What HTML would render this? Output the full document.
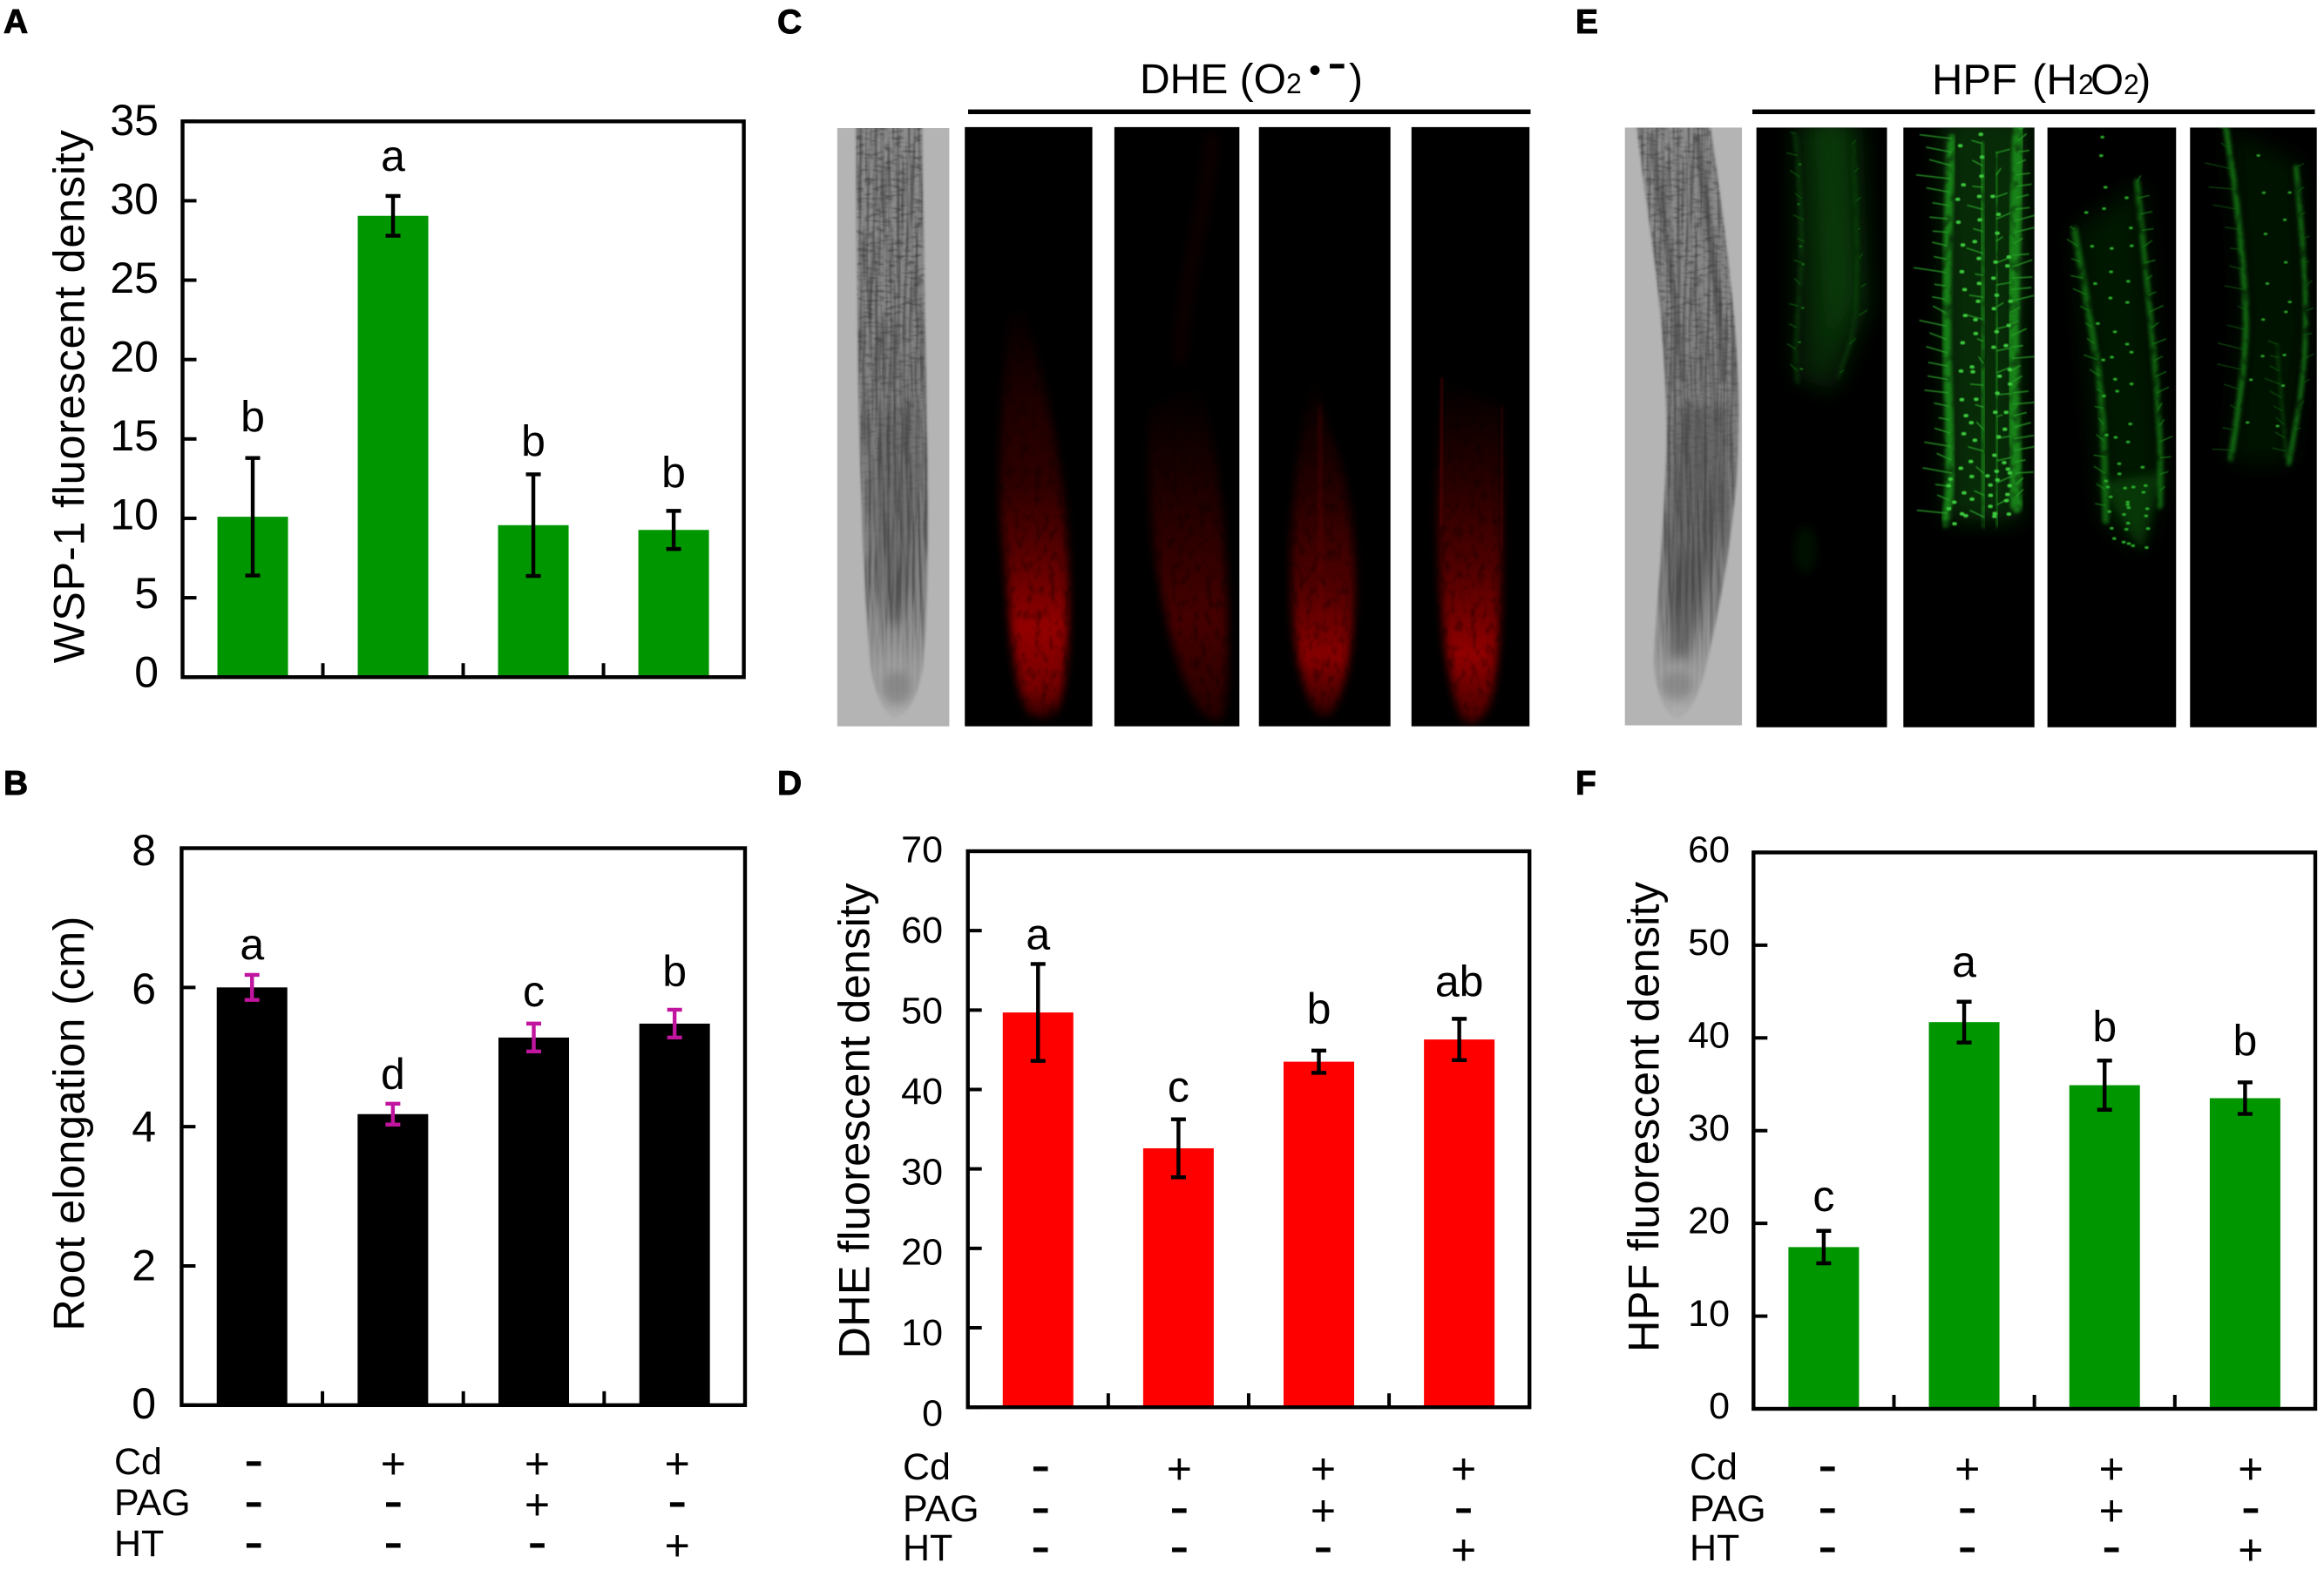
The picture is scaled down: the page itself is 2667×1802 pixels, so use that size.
<!DOCTYPE html>
<html lang="en">
<head>
<meta charset="utf-8">
<title>Root ROS figure</title>
<style>
html,body{margin:0;padding:0;background:#fff;width:2667px;height:1802px;overflow:hidden}
svg{display:block;font-family:"Liberation Sans",Arial,sans-serif}
text{fill:#000}
</style>
</head>
<body>
<svg id="figure" xmlns="http://www.w3.org/2000/svg" width="2667" height="1802" viewBox="0 0 2667 1802">
<defs>
  <filter id="fiber" x="0" y="0" width="100%" height="100%" color-interpolation-filters="sRGB">
    <feTurbulence type="fractalNoise" baseFrequency="0.16 0.006" numOctaves="3" seed="7"/>
    <feColorMatrix type="matrix" values="0 0 0 0 .2  0 0 0 0 .2  0 0 0 0 .2  3.4 0 0 0 -1.35"/>
    <feGaussianBlur stdDeviation="0.9" result="t"/>
    <feComposite in="t" in2="SourceGraphic" operator="in"/>
  </filter>
  <filter id="cellwall" x="0" y="0" width="100%" height="100%" color-interpolation-filters="sRGB">
    <feTurbulence type="fractalNoise" baseFrequency="0.05 0.15" numOctaves="2" seed="12"/>
    <feColorMatrix type="matrix" values="0 0 0 0 .2  0 0 0 0 .2  0 0 0 0 .2  3.6 0 0 0 -1.75"/>
    <feGaussianBlur stdDeviation="0.9" result="t"/>
    <feComposite in="t" in2="SourceGraphic" operator="in"/>
  </filter>
  <filter id="redglow" x="-20%" y="-20%" width="140%" height="140%" color-interpolation-filters="sRGB">
    <feGaussianBlur stdDeviation="9" result="b"/>
    <feTurbulence type="fractalNoise" baseFrequency="0.07 0.04" numOctaves="2" seed="4" result="n"/>
    <feColorMatrix in="n" type="matrix" values="0 0 0 0 0  0 0 0 0 0  0 0 0 0 0  .9 0 0 0 .52" result="m"/>
    <feComposite in="b" in2="m" operator="in"/>
  </filter>
  <filter id="greenband" x="-60%" y="-5%" width="220%" height="110%" color-interpolation-filters="sRGB">
    <feGaussianBlur stdDeviation="4" result="b"/>
    <feTurbulence type="fractalNoise" baseFrequency="0.04 0.035" numOctaves="2" seed="9" result="n"/>
    <feColorMatrix in="n" type="matrix" values="0 0 0 0 0  0 0 0 0 0  0 0 0 0 0  2 0 0 0 -.05" result="m"/>
    <feComposite in="b" in2="m" operator="in"/>
  </filter>
  <filter id="soft" x="-30%" y="-30%" width="160%" height="160%"><feGaussianBlur stdDeviation="10"/></filter>
  <filter id="softwide" x="-50%" y="-30%" width="200%" height="160%"><feGaussianBlur stdDeviation="24"/></filter>
  <filter id="soft2" x="-30%" y="-5%" width="160%" height="110%"><feGaussianBlur stdDeviation="2.5"/></filter>
  <filter id="soft1" x="-5%" y="-5%" width="110%" height="110%"><feGaussianBlur stdDeviation="0.9"/></filter>
  <linearGradient id="grad-r1" gradientUnits="userSpaceOnUse" x1="0" y1="620" x2="0" y2="1510">
    <stop offset="0" stop-color="#8c0000" stop-opacity="0"/><stop offset=".2" stop-color="#8c0000" stop-opacity=".18"/>
    <stop offset=".45" stop-color="#8c0000" stop-opacity=".34"/><stop offset=".6" stop-color="#8c0000" stop-opacity=".62"/>
    <stop offset=".78" stop-color="#940000" stop-opacity="1"/><stop offset=".92" stop-color="#8c0000" stop-opacity=".85"/>
    <stop offset="1" stop-color="#8c0000" stop-opacity=".3"/>
  </linearGradient>
  <linearGradient id="grad-r2" gradientUnits="userSpaceOnUse" x1="0" y1="800" x2="0" y2="1510">
    <stop offset="0" stop-color="#4a0000" stop-opacity="0"/><stop offset=".35" stop-color="#4a0000" stop-opacity=".45"/>
    <stop offset=".7" stop-color="#4a0000" stop-opacity=".95"/><stop offset="1" stop-color="#4a0000" stop-opacity=".5"/>
  </linearGradient>
  <linearGradient id="grad-r3" gradientUnits="userSpaceOnUse" x1="0" y1="780" x2="0" y2="1505">
    <stop offset="0" stop-color="#800000" stop-opacity="0"/><stop offset=".35" stop-color="#800000" stop-opacity=".3"/>
    <stop offset=".6" stop-color="#800000" stop-opacity=".6"/><stop offset=".82" stop-color="#880000" stop-opacity="1"/>
    <stop offset="1" stop-color="#800000" stop-opacity=".35"/>
  </linearGradient>
  <linearGradient id="grad-r4" gradientUnits="userSpaceOnUse" x1="0" y1="790" x2="0" y2="1515">
    <stop offset="0" stop-color="#8a0000" stop-opacity="0"/><stop offset=".3" stop-color="#8a0000" stop-opacity=".28"/>
    <stop offset=".55" stop-color="#8a0000" stop-opacity=".58"/><stop offset=".8" stop-color="#920000" stop-opacity="1"/>
    <stop offset="1" stop-color="#8a0000" stop-opacity=".5"/>
  </linearGradient>
  <linearGradient id="grad-root-c" gradientUnits="userSpaceOnUse" x1="0" y1="268" x2="0" y2="1505">
    <stop offset="0" stop-color="#8d8d8d"/><stop offset=".5" stop-color="#7f7f7f"/>
    <stop offset=".78" stop-color="#838383"/><stop offset=".9" stop-color="#9c9c9c"/><stop offset="1" stop-color="#aeaeae"/>
  </linearGradient>
  <linearGradient id="fade-cell" gradientUnits="userSpaceOnUse" x1="0" y1="268" x2="0" y2="1505">
    <stop offset="0" stop-color="#000" stop-opacity="1"/><stop offset=".3" stop-color="#000" stop-opacity="1"/><stop offset=".5" stop-color="#000" stop-opacity=".5"/><stop offset=".72" stop-color="#000" stop-opacity="0"/>
  </linearGradient>
  <linearGradient id="fade-fiber" gradientUnits="userSpaceOnUse" x1="0" y1="268" x2="0" y2="1505">
    <stop offset="0" stop-color="#000" stop-opacity=".85"/><stop offset=".78" stop-color="#000" stop-opacity=".85"/><stop offset=".9" stop-color="#000" stop-opacity=".15"/><stop offset="1" stop-color="#000" stop-opacity="0"/>
  </linearGradient>
  <mask id="mask-root-c" maskUnits="userSpaceOnUse" x="106" y="268" width="224" height="1252"><path fill="#fff" filter="url(#soft2)" d="M143 250 C145 500 147 800 152 950 C156 1150 165 1300 172 1390 C180 1460 205 1500 222 1503 C245 1497 270 1460 278 1390 C286 1300 290 1100 285 900 C282 700 278 450 275 250Z"/></mask>
  <mask id="mask-root-e" maskUnits="userSpaceOnUse" x="117" y="267" width="243" height="1251"><path fill="#fff" filter="url(#soft2)" d="M140 250 C150 350 170 470 185 600 C198 720 206 850 203 950 C198 1100 185 1250 177 1380 C180 1450 200 1497 225 1504 C252 1496 272 1455 287 1390 C312 1280 337 1150 349 1000 C357 880 352 720 337 600 C324 470 307 350 292 250Z"/></mask>
  <clipPath id="clip-e1"><rect x="390" y="267" width="271" height="1255"/></clipPath>
  <clipPath id="clip-e2"><rect x="695" y="267" width="272" height="1255"/></clipPath>
  <clipPath id="clip-e3"><rect x="994" y="267" width="267" height="1255"/></clipPath>
  <clipPath id="clip-e4"><rect x="1290" y="267" width="263" height="1255"/></clipPath>
  <clipPath id="clip-c1"><rect x="361" y="266" width="255" height="1254"/></clipPath>
  <clipPath id="clip-c2"><rect x="660" y="266" width="250" height="1254"/></clipPath>
  <clipPath id="clip-c3"><rect x="949" y="266" width="263" height="1254"/></clipPath>
  <clipPath id="clip-c4"><rect x="1254" y="266" width="236" height="1254"/></clipPath>
</defs>

<rect x="0" y="0" width="2667" height="1802" fill="#ffffff"/>

<text x="4" y="38" font-size="39" font-weight="bold" stroke="#000" stroke-width="1">A</text>
<text x="4" y="912" font-size="39" font-weight="bold" stroke="#000" stroke-width="1">B</text>
<text x="892" y="38" font-size="39" font-weight="bold" stroke="#000" stroke-width="1">C</text>
<text x="892" y="912" font-size="39" font-weight="bold" stroke="#000" stroke-width="1">D</text>
<text x="1808" y="38" font-size="39" font-weight="bold" stroke="#000" stroke-width="1">E</text>
<text x="1808" y="912" font-size="39" font-weight="bold" stroke="#000" stroke-width="1">F</text>

<!-- Panel C micrographs, drawn in zoom-space units -->
<g transform="translate(900,0) scale(0.57399,0.54845)">
  <rect x="106" y="268" width="224" height="1252" fill="#b4b4b4"/>
  <g mask="url(#mask-root-c)">
    <rect x="106" y="268" width="224" height="1252" fill="url(#grad-root-c)"/>
    <path d="M190 850 L178 1100 L205 1300 L235 1310 L268 1100 L262 850Z" fill="#4d4d4d" opacity=".35" filter="url(#soft)"/>
    <rect x="106" y="268" width="224" height="1252" fill="url(#fade-fiber)" filter="url(#fiber)" opacity=".62"/>
    <rect x="106" y="268" width="224" height="1252" fill="url(#fade-cell)" filter="url(#cellwall)" opacity=".5"/>
    <ellipse cx="225" cy="1440" rx="28" ry="36" fill="#666" opacity=".45" filter="url(#soft)"/>
  </g>
  <rect x="361" y="266" width="255" height="1254" fill="#000"/>
  <rect x="660" y="266" width="250" height="1254" fill="#000"/>
  <rect x="949" y="266" width="263" height="1254" fill="#000"/>
  <rect x="1254" y="266" width="236" height="1254" fill="#000"/>
  <g clip-path="url(#clip-c1)">
    <path filter="url(#redglow)" fill="url(#grad-r1)" d="M450 650 C430 900 425 1050 440 1150 C450 1300 460 1450 490 1495 C510 1505 535 1505 550 1480 C570 1400 572 1250 565 1120 C555 950 520 800 480 650Z"/>
  </g>
  <g clip-path="url(#clip-c2)">
    <path filter="url(#redglow)" fill="url(#grad-r2)" d="M730 850 C725 1000 730 1150 770 1320 C800 1450 830 1505 870 1510 C885 1500 890 1400 885 1250 C880 1100 870 950 830 800Z"/>
    <path d="M855 280 C850 420 800 560 790 760" fill="none" stroke="#2c0000" stroke-width="30" opacity=".3" filter="url(#soft)"/>
  </g>
  <g clip-path="url(#clip-c3)">
    <path filter="url(#redglow)" fill="url(#grad-r3)" d="M1060 780 C1020 950 1010 1100 1015 1250 C1020 1400 1050 1495 1080 1500 C1110 1495 1135 1400 1140 1250 C1145 1150 1130 1000 1090 900Z"/>
    <path d="M1068 850 L1075 1300" fill="none" stroke="#7a0000" stroke-width="20" opacity=".28" filter="url(#soft)"/>
  </g>
  <g clip-path="url(#clip-c4)">
    <path filter="url(#redglow)" fill="url(#grad-r4)" d="M1315 790 L1305 1000 C1305 1200 1320 1450 1360 1510 C1385 1520 1410 1500 1420 1430 C1435 1300 1440 1100 1435 850 C1400 830 1360 820 1315 790Z"/>
    <path d="M1316 790 L1312 1100" fill="none" stroke="#800000" stroke-width="10" opacity=".3" filter="url(#soft2)"/>
    <path d="M1436 850 L1434 1150" fill="none" stroke="#800000" stroke-width="8" opacity=".25" filter="url(#soft2)"/>
  </g>
</g>

<!-- Panel E micrographs, drawn in zoom-space units -->
<g transform="translate(1800,0) scale(0.55294,0.54845)">
  <rect x="117" y="267" width="243" height="1251" fill="#b4b4b4"/>
  <g mask="url(#mask-root-e)">
    <rect x="117" y="267" width="243" height="1251" fill="url(#grad-root-c)"/>
    <path d="M225 850 L205 1150 L215 1370 L245 1370 L320 1100 L335 850Z" fill="#404040" opacity=".38" filter="url(#soft)"/>
    <rect x="117" y="267" width="243" height="1251" fill="url(#fade-fiber)" filter="url(#fiber)" opacity=".55"/>
    <rect x="117" y="267" width="243" height="1251" fill="url(#fade-cell)" filter="url(#cellwall)" opacity=".42"/>
    <path d="M170 280 C200 480 225 650 240 800" fill="none" stroke="#333" stroke-width="14" opacity=".3" filter="url(#soft2)"/>
    <path d="M265 280 C290 450 315 620 320 800" fill="none" stroke="#333" stroke-width="14" opacity=".35" filter="url(#soft2)"/>
    <path d="M240 1150 L212 1385 M262 1150 L228 1385 M285 1150 L245 1385" fill="none" stroke="#333" stroke-width="9" opacity=".32" filter="url(#soft)"/>
    <ellipse cx="225" cy="1435" rx="32" ry="30" fill="#666" opacity=".42" filter="url(#soft)"/>
  </g>
  <rect x="390" y="267" width="271" height="1255" fill="#000"/>
  <rect x="695" y="267" width="272" height="1255" fill="#000"/>
  <rect x="994" y="267" width="267" height="1255" fill="#000"/>
  <rect x="1290" y="267" width="263" height="1255" fill="#000"/>
  <g id="hpf-1" clip-path="url(#clip-e1)">
    <path d="M470 250 L610 250 L625 640 L550 820 L475 790Z" fill="#0b3f0b" opacity=".55" filter="url(#softwide)"/>
    <path d="M510 250 L575 250 L590 620 L535 760Z" fill="#0e5a0e" opacity=".45" filter="url(#softwide)"/>
    <ellipse cx="492" cy="1150" rx="22" ry="50" fill="#052405" opacity=".5" filter="url(#soft)"/>
  </g>
  <g id="hpf-2" clip-path="url(#clip-e2)">
    <path d="M775 240 L955 240 L935 1090 L785 1090Z" fill="#0a480a" opacity=".6" filter="url(#softwide)"/>
  </g>
  <g id="hpf-3" clip-path="url(#clip-e3)">
    <path d="M1050 480 L1190 380 L1235 1000 L1190 1155 L1110 1090Z" fill="#062f06" opacity=".5" filter="url(#softwide)"/>
    <path d="M1100 1010 L1232 990 L1190 1155Z" fill="#0a4d0a" opacity=".6" filter="url(#soft)"/>
  </g>
  <g id="hpf-4" clip-path="url(#clip-e4)">
    <path d="M1370 270 L1520 340 L1535 700 L1495 970 L1375 970 L1400 650Z" fill="#042804" opacity=".5" filter="url(#softwide)"/>
  </g>
</g>

<rect x="1111" y="125.6" width="645.5" height="5.4" fill="#000"/>
<text y="107" font-size="48"><tspan x="1308">DHE (O</tspan><tspan x="1476" font-size="32">2</tspan><tspan x="1502" y="94" font-size="40">•</tspan><tspan x="1523" y="94" font-size="68">-</tspan><tspan x="1548" y="107">)</tspan></text>
<rect x="2011" y="125.6" width="645.5" height="5.4" fill="#000"/>
<text y="108" font-size="49"><tspan x="2217">HPF</tspan><tspan x="2332">(H</tspan><tspan x="2385" font-size="32">2</tspan><tspan x="2399">O</tspan><tspan x="2437" font-size="32">2</tspan><tspan x="2452">)</tspan></text>

<g id="charts"></g>

<script>
/* Shared treatment table */
const treatmentNames = ['Cd', 'PAG', 'HT'];
const treatmentCd = ['-', '+', '+', '+'];
const treatmentPag = ['-', '-', '+', '-'];
const treatmentHt = ['-', '-', '-', '+'];

/* Panel A */
const panelAValues = [10.1, 29.05, 9.57, 9.27];
const panelAErrors = [3.7, 1.25, 3.2, 1.2];
const panelALetters = ['b', 'a', 'b', 'b'];
const panelATicks = [0, 5, 10, 15, 20, 25, 30, 35];

/* Panel B */
const panelBValues = [6.0, 4.18, 5.28, 5.48];
const panelBErrors = [0.18, 0.15, 0.2, 0.2];
const panelBLetters = ['a', 'd', 'c', 'b'];
const panelBTicks = [0, 2, 4, 6, 8];

/* Panel D */
const panelDValues = [49.7, 32.6, 43.5, 46.3];
const panelDErrors = [6.1, 3.65, 1.4, 2.6];
const panelDLetters = ['a', 'c', 'b', 'ab'];
const panelDTicks = [0, 10, 20, 30, 40, 50, 60, 70];

/* Panel F */
const panelFValues = [17.44, 41.7, 34.9, 33.5];
const panelFErrors = [1.75, 2.2, 2.65, 1.7];
const panelFLetters = ['c', 'a', 'b', 'b'];
const panelFTicks = [0, 10, 20, 30, 40, 50, 60];

const SVGNS = 'http://www.w3.org/2000/svg';
function mk(parent, tag, attrs, text) {
  const el = document.createElementNS(SVGNS, tag);
  for (const k in attrs) el.setAttribute(k, attrs[k]);
  if (text !== undefined) el.textContent = text;
  parent.appendChild(el);
  return el;
}

function drawChart(cfg) {
  const root = document.getElementById('charts');
  const g = mk(root, 'g', {});
  
  
  const yMax = cfg.ticks[cfg.ticks.length - 1];
  const yScale = v => cfg.bottom - (v / yMax) * (cfg.bottom - cfg.top);
  const band = (cfg.right - cfg.left) / cfg.values.length;
  const xScale = i => cfg.left + (i + 0.5) * band;
  const barW = 81;

  cfg.values.forEach((v, i) => {
    const bar = mk(g, 'rect', {x: xScale(i) - barW / 2, y: yScale(v), width: barW, height: yScale(0) - yScale(v), fill: cfg.color});
    
    
  });

  const frame = mk(g, 'rect', {x: cfg.left, y: cfg.top, width: cfg.right - cfg.left, height: cfg.bottom - cfg.top, fill: 'none', stroke: '#000', 'stroke-width': 4.4});
  
  

  cfg.ticks.forEach(t => {
    const y = yScale(t);
    const tick = mk(g, 'line', {x1: cfg.left, x2: cfg.left + 16, y1: y, y2: y, stroke: '#000', 'stroke-width': 4});
    
    
    const frac = t / yMax;
    const off = cfg.labelOffBottom + (cfg.labelOffTop - cfg.labelOffBottom) * frac;
    const lab = mk(g, 'text', {x: cfg.labelRight, y: y + off, 'text-anchor': 'end', 'font-size': cfg.tickFont}, String(t));
    
    
  });

  for (let i = 1; i < cfg.values.length; i++) {
    const x = cfg.left + i * band;
    const tick = mk(g, 'line', {x1: x, x2: x, y1: cfg.bottom, y2: cfg.bottom - 16, stroke: '#000', 'stroke-width': 4});
    
    
  }

  cfg.errors.forEach((e, i) => {
    const x = xScale(i), hi = yScale(cfg.values[i] + e), lo = yScale(cfg.values[i] - e);
    const path = mk(g, 'path', {d: 'M' + (x - 8.5) + ' ' + hi + 'H' + (x + 8.5) + 'M' + x + ' ' + hi + 'V' + lo + 'M' + (x - 8.5) + ' ' + lo + 'H' + (x + 8.5), fill: 'none', stroke: cfg.errColor, 'stroke-width': 4.4});
    
    
    const letter = mk(g, 'text', {x: x, y: hi - cfg.letterGaps[i], 'text-anchor': 'middle', 'font-size': 50}, cfg.letters[i]);
    
    
  });

  const yt = mk(g, 'text', {transform: 'translate(' + cfg.yTitleX + ',' + cfg.yTitleY + ') rotate(-90)', 'text-anchor': 'middle', 'font-size': 50.5, textLength: cfg.yTitleLen}, cfg.yTitle);
  
  

  if (cfg.rows) {
    const tables = [treatmentCd, treatmentPag, treatmentHt];
    treatmentNames.forEach((nm, r) => {
      const rl = mk(g, 'text', {x: cfg.rowLabelX, y: cfg.rows[r] + 13, 'font-size': 43}, nm);
      
      
      tables[r].forEach((s, i) => {
        const x = xScale(i) + cfg.signNudge[i];
        const plus = s === '+';
        const sign = mk(g, 'text', {x: x, y: cfg.rows[r] + (plus ? 18 : 19), 'text-anchor': 'middle', 'font-size': plus ? 50 : 68}, s);
        
        
      });
    });
  }
}

drawChart({id: 'a', left: 209.5, right: 853.6, top: 139.3, bottom: 777.2, color: '#009600', errColor: '#000',
  values: panelAValues, errors: panelAErrors, letters: panelALetters, ticks: panelATicks,
  labelRight: 182, tickFont: 50, labelOffTop: 15.7, labelOffBottom: 11.4, letterGaps: [30, 29, 21, 27],
  yTitle: 'WSP-1 fluorescent density', yTitleX: 96.4, yTitleY: 455.2, yTitleLen: 612});
drawChart({id: 'b', left: 208.4, right: 855, top: 973.5, bottom: 1612.8, color: '#000', errColor: '#c1159f',
  values: panelBValues, errors: panelBErrors, letters: panelBLetters, ticks: panelBTicks,
  labelRight: 179, tickFont: 50, labelOffTop: 19.5, labelOffBottom: 15.2, letterGaps: [18, 17, 20, 27],
  yTitle: 'Root elongation (cm)', yTitleX: 96.4, yTitleY: 1289.6, yTitleLen: 476,
  rows: [1679, 1726, 1773], rowLabelX: 131, signNudge: [2, 0.5, 4, 3]});
drawChart({id: 'd', left: 1110.7, right: 1755.2, top: 977, bottom: 1615.2, color: '#ff0000', errColor: '#000',
  values: panelDValues, errors: panelDErrors, letters: panelDLetters, ticks: panelDTicks,
  labelRight: 1082, tickFont: 43, labelOffTop: 12.6, labelOffBottom: 21.4, letterGaps: [17, 20, 31, 26],
  yTitle: 'DHE fluorescent density', yTitleX: 997.6, yTitleY: 1286.5, yTitleLen: 546,
  rows: [1685, 1733, 1778], rowLabelX: 1036, signNudge: [3, 1, 5, 5]});
drawChart({id: 'f', left: 2012.3, right: 2657, top: 978.4, bottom: 1617, color: '#009600', errColor: '#000',
  values: panelFValues, errors: panelFErrors, letters: panelFLetters, ticks: panelFTicks,
  labelRight: 1985, tickFont: 43, labelOffTop: 11.2, labelOffBottom: 11.2, letterGaps: [23, 29, 22, 31],
  yTitle: 'HPF fluorescent density', yTitleX: 1903.4, yTitleY: 1282, yTitleLen: 540,
  rows: [1685, 1733, 1778], rowLabelX: 1939, signNudge: [4.5, 3.7, 8, 6.5]});

/* Decorative micrograph texture (not chart data): deterministic jitter */
function jitter(n) { const s = Math.sin(n * 12.9898) * 43758.5453; return s - Math.floor(s); }
function polyX(pts, y) {
  for (let i = 1; i < pts.length; i++) {
    if (y <= pts[i][1]) {
      const a = pts[i - 1], b = pts[i];
      return a[0] + (b[0] - a[0]) * (y - a[1]) / (b[1] - a[1]);
    }
  }
  return pts[pts.length - 1][0];
}
function polyD(pts) {
  let d = 'M' + pts[0][0] + ' ' + pts[0][1];
  for (let i = 1; i < pts.length - 1; i++) {
    const mx = (pts[i][0] + pts[i + 1][0]) / 2, my = (pts[i][1] + pts[i + 1][1]) / 2;
    d += 'Q' + pts[i][0] + ' ' + pts[i][1] + ' ' + mx + ' ' + my;
  }
  const last = pts[pts.length - 1];
  return d + 'L' + last[0] + ' ' + last[1];
}
function micro(groupId, spec) {
  const host = document.getElementById(groupId);
  let seed = spec.seed;
  spec.bands.forEach(b => {
    const band = mk(host, 'path', {d: polyD(b.pts), fill: 'none', stroke: spec.bandColor, 'stroke-width': b.w, 'stroke-linecap': 'round', opacity: spec.bandOpacity, filter: 'url(#greenband)'});
    
    
    let d = '';
    for (let y = b.pts[0][1]; y < b.pts[b.pts.length - 1][1]; y += b.step) {
      seed++;
      const x = polyX(b.pts, y);
      d += 'M' + x.toFixed(1) + ' ' + y + 'l' + (b.side * b.len * (0.35 + jitter(seed))).toFixed(1) + ' ' + (-2 - 12 * jitter(seed + 0.5)).toFixed(1);
    }
    const hairs = mk(host, 'path', {d: d, fill: 'none', stroke: spec.hairColor, 'stroke-width': spec.hairWidth, 'stroke-linecap': 'round', opacity: 0.8, filter: 'url(#soft1)'});
    
    
  });
  let dots = '';
  spec.dotCols.forEach(c => {
    for (let y = c.pts[0][1]; y < c.pts[c.pts.length - 1][1]; y += c.step) {
      seed++;
      const x = polyX(c.pts, y) + (jitter(seed) - 0.5) * 14;
      const yy = y + (jitter(seed + 0.25) - 0.5) * c.step * 0.8;
      dots += 'M' + x.toFixed(1) + ' ' + yy.toFixed(1) + 'h3';
    }
  });
  const spots = mk(host, 'path', {d: dots, fill: 'none', stroke: spec.dotColor, 'stroke-width': spec.dotWidth, 'stroke-linecap': 'round', filter: 'url(#soft1)'});
  
  
}
micro('hpf-1', {seed: 11, bandColor: '#106010', bandOpacity: .4, hairColor: '#125f12', hairWidth: 2.4, dotColor: '#157015', dotWidth: 4,
  bands: [
    {pts: [[470, 280], [490, 480], [470, 720], [475, 800]], w: 9, side: -1, len: 16, step: 45},
    {pts: [[590, 300], [610, 640], [560, 790]], w: 8, side: 1, len: 12, step: 60}
  ],
  dotCols: [{pts: [[480, 350], [478, 800]], step: 70}]
});
micro('hpf-2', {seed: 51, bandColor: '#1d9a1d', bandOpacity: .8, hairColor: '#2a9f2a', hairWidth: 3, dotColor: '#3cc83c', dotWidth: 7,
  bands: [
    {pts: [[795, 290], [780, 620], [795, 1000], [782, 1095]], w: 18, side: -1, len: 56, step: 28},
    {pts: [[935, 270], [918, 650], [930, 1060]], w: 26, side: 1, len: 36, step: 24},
    {pts: [[858, 300], [862, 1100]], w: 8, side: -1, len: 24, step: 46},
    {pts: [[888, 320], [890, 1100]], w: 6, side: 1, len: 24, step: 46}
  ],
  dotCols: [
    {pts: [[812, 320], [820, 1090]], step: 50},
    {pts: [[855, 290], [830, 1090]], step: 42},
    {pts: [[885, 420], [888, 1090]], step: 40},
    {pts: [[912, 520], [905, 1090]], step: 48},
    {pts: [[790, 1000], [795, 1095]], step: 22},
    {pts: [[870, 1000], [880, 1095]], step: 22},
    {pts: [[915, 1000], [912, 1095]], step: 26}
  ]
});
micro('hpf-3', {seed: 151, bandColor: '#168016', bandOpacity: .72, hairColor: '#1c851c', hairWidth: 2.4, dotColor: '#2aa82a', dotWidth: 5.5,
  bands: [
    {pts: [[1050, 480], [1085, 680], [1110, 850], [1115, 1090]], w: 14, side: -1, len: 20, step: 34},
    {pts: [[1180, 380], [1210, 680], [1228, 900], [1228, 1060]], w: 12, side: 1, len: 20, step: 34}
  ],
  dotCols: [
    {pts: [[1105, 290], [1125, 600], [1150, 1140]], step: 55},
    {pts: [[1160, 400], [1165, 1140]], step: 60},
    {pts: [[1075, 460], [1100, 700], [1125, 1100]], step: 80},
    {pts: [[1190, 980], [1200, 1140]], step: 26},
    {pts: [[1120, 1020], [1130, 1130]], step: 26},
    {pts: [[1155, 1020], [1165, 1150]], step: 22}
  ]
});
micro('hpf-4', {seed: 251, bandColor: '#188418', bandOpacity: .78, hairColor: '#136413', hairWidth: 2, dotColor: '#2aa02a', dotWidth: 5,
  bands: [
    {pts: [[1365, 270], [1385, 400], [1400, 560], [1408, 680], [1398, 800], [1375, 960]], w: 12, side: -1, len: 42, step: 42},
    {pts: [[1510, 350], [1522, 480], [1532, 650], [1525, 800], [1495, 970]], w: 10, side: 1, len: 16, step: 50},
    {pts: [[1470, 720], [1490, 960]], w: 3, side: -1, len: 26, step: 28}
  ],
  dotCols: [
    {pts: [[1430, 350], [1450, 600], [1400, 950]], step: 75},
    {pts: [[1490, 400], [1490, 650], [1470, 950]], step: 70}
  ]
});
</script>
</svg>
</body>
</html>
